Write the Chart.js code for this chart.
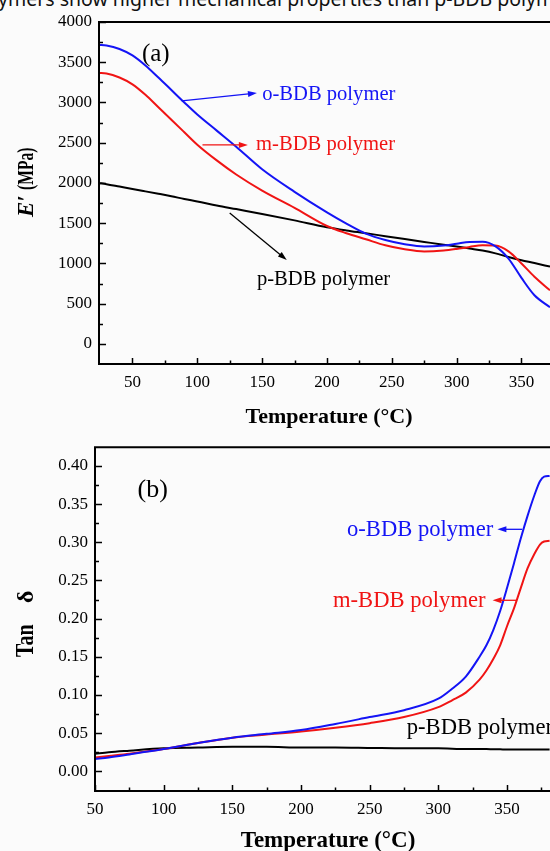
<!DOCTYPE html>
<html>
<head>
<meta charset="utf-8">
<script src="https://cdn.jsdelivr.net/npm/chart.js@4.4.0/dist/chart.umd.min.js"></script>
<style>
  html, body { margin: 0; padding: 0; background: #fbfbfb; }
  #pagina { position: relative; width: 550px; height: 851px; overflow: hidden; }
  #leyenda { position: absolute; left: -2px; top: -10px; white-space: nowrap;
             font-family: 'Noto Sans', sans-serif; font-size: 19.5px; line-height: 18px; color: #111; }
  canvas { position: absolute; left: 0; }
  #graficoA { top: 0; }
  #graficoB { top: 430px; }
</style>
</head>
<body>
<div id="pagina">
  <div id="leyenda">ymers show higher mechanical properties than p-BDB polym</div>
  <canvas id="graficoA" width="550" height="430"></canvas>
  <canvas id="graficoB" width="550" height="421"></canvas>
</div>
<script>
// (a) modulo de almacenamiento E' (MPa) frente a temperatura
const tempA = [24, 30, 40, 50, 60, 70, 80, 90, 100, 115, 130, 150, 175, 200, 215, 230, 245, 260, 275, 290, 300, 310, 320, 330, 340, 350, 360, 372];
const eOrto = [3715, 3708, 3665, 3585, 3460, 3310, 3155, 3000, 2850, 2650, 2450, 2170, 1890, 1635, 1495, 1370, 1290, 1238, 1210, 1222, 1245, 1267, 1268, 1212, 1060, 820, 605, 455];
const eMeta = [3366, 3360, 3310, 3225, 3095, 2940, 2785, 2630, 2475, 2280, 2105, 1905, 1690, 1465, 1375, 1300, 1225, 1175, 1148, 1160, 1180, 1205, 1225, 1222, 1150, 1000, 835, 665];
const ePara = [2000, 1985, 1955, 1925, 1895, 1865, 1835, 1800, 1770, 1720, 1675, 1615, 1535, 1450, 1410, 1375, 1338, 1302, 1267, 1232, 1210, 1185, 1160, 1125, 1080, 1040, 1005, 960];

// (b) tan delta frente a temperatura
const tempB = [50, 60, 75, 100, 125, 150, 175, 200, 225, 250, 275, 300, 310, 320, 330, 335, 340, 345, 350, 355, 360, 365, 370, 374, 377, 381];
const tanOrto = [0.016, 0.018, 0.022, 0.029, 0.037, 0.044, 0.049, 0.054, 0.062, 0.071, 0.080, 0.095, 0.108, 0.124, 0.150, 0.165, 0.185, 0.210, 0.240, 0.272, 0.305, 0.335, 0.362, 0.380, 0.386, 0.387];
const tanMeta = [0.018, 0.020, 0.023, 0.029, 0.037, 0.044, 0.048, 0.052, 0.057, 0.063, 0.071, 0.084, 0.093, 0.103, 0.120, 0.132, 0.147, 0.165, 0.190, 0.213, 0.240, 0.266, 0.285, 0.297, 0.301, 0.302];
const tanPara = [0.023, 0.025, 0.027, 0.030, 0.031, 0.032, 0.032, 0.031, 0.031, 0.0305, 0.030, 0.030, 0.0295, 0.029, 0.029, 0.029, 0.0288, 0.0287, 0.0285, 0.0285, 0.0285, 0.0285, 0.0285, 0.0285, 0.0285, 0.0285];

// marcas de los ejes
const ticksXA = [50, 100, 150, 200, 250, 300, 350];
const menoresXA = [75, 125, 175, 225, 275, 325];
const ticksYA = [0, 500, 1000, 1500, 2000, 2500, 3000, 3500, 4000];
const menoresYA = [250, 750, 1250, 1750, 2250, 2750, 3250, 3750];
const ticksXB = [50, 100, 150, 200, 250, 300, 350];
const menoresXB = [75, 125, 175, 225, 275, 325, 375];
const ticksYB = [0, 0.05, 0.10, 0.15, 0.20, 0.25, 0.30, 0.35, 0.40];
const menoresYB = [0.025, 0.075, 0.125, 0.175, 0.225, 0.275, 0.325, 0.375];

// colores
const AZUL = 'rgb(20,20,245)';
const ROJO = 'rgb(240,20,20)';
const NEGRO = '#000';
const SERIF = '"Liberation Serif", "Times New Roman", serif';

// anotaciones en unidades de datos
const notasA = [
  { tipo: 'texto', texto: '(a)', x: 68, y: 3600, color: NEGRO, font: '25px ' + SERIF, alinear: 'center', base: 'middle' },
  { tipo: 'texto', texto: 'o-BDB polymer', x: 150, y: 3031, color: AZUL, font: '20.6px ' + SERIF },
  { tipo: 'flecha', x1: 88, y1: 3019, x2: 146, y2: 3118, color: AZUL },
  { tipo: 'texto', texto: 'm-BDB polymer', x: 145.3, y: 2410, color: ROJO, font: '20.6px ' + SERIF },
  { tipo: 'flecha', x1: 104, y1: 2472, x2: 139, y2: 2472, color: ROJO },
  { tipo: 'texto', texto: 'p-BDB polymer', x: 146, y: 733, color: NEGRO, font: '20.6px ' + SERIF },
  { tipo: 'flecha', x1: 125, y1: 1627, x2: 169, y2: 1043, color: NEGRO }
];
const notasB = [
  { tipo: 'texto', texto: '(b)', x: 92, y: 0.368, color: NEGRO, font: '26px ' + SERIF, alinear: 'center', base: 'middle' },
  { tipo: 'texto', texto: 'o-BDB polymer', x: 233.5, y: 0.308, color: AZUL, font: '22.6px ' + SERIF },
  { tipo: 'flecha', x1: 361, y1: 0.317, x2: 343, y2: 0.317, color: AZUL },
  { tipo: 'texto', texto: 'm-BDB polymer', x: 223.3, y: 0.215, color: ROJO, font: '22.6px ' + SERIF },
  { tipo: 'flecha', x1: 357, y1: 0.224, x2: 339.5, y2: 0.224, color: ROJO },
  { tipo: 'texto', texto: 'p-BDB polymer', x: 277, y: 0.049, color: NEGRO, font: '22.6px ' + SERIF }
];

// Marco del grafico con marcas hacia dentro
const marcoPlugin = {
  id: 'marco',
  afterDraw(chart, args, op) {
    const { ctx, chartArea: a, scales: { x, y } } = chart;
    ctx.save();
    ctx.strokeStyle = NEGRO;
    ctx.lineWidth = 2;
    ctx.beginPath();
    ctx.moveTo(a.left, a.bottom); ctx.lineTo(a.left, a.top); ctx.lineTo(chart.width, a.top);
    ctx.moveTo(a.left - 1, a.bottom); ctx.lineTo(chart.width, a.bottom);
    ctx.stroke();
    ctx.lineWidth = 1.5;
    ctx.beginPath();
    op.xMayores.forEach(v => { const p = Math.round(x.getPixelForValue(v)) + 0.5; ctx.moveTo(p, a.bottom); ctx.lineTo(p, a.bottom - 6); });
    op.xMenores.forEach(v => { const p = Math.round(x.getPixelForValue(v)) + 0.5; ctx.moveTo(p, a.bottom); ctx.lineTo(p, a.bottom - 3.5); });
    op.yMayores.forEach(v => { const p = Math.round(y.getPixelForValue(v)) + 0.5; ctx.moveTo(a.left, p); ctx.lineTo(a.left + 7, p); });
    op.yMenores.forEach(v => { const p = Math.round(y.getPixelForValue(v)) + 0.5; ctx.moveTo(a.left, p); ctx.lineTo(a.left + 4, p); });
    ctx.stroke();
    ctx.restore();
  }
};

// Textos y flechas dentro del grafico
const notasPlugin = {
  id: 'notas',
  afterDraw(chart, args, op) {
    const { ctx, scales: { x, y } } = chart;
    ctx.save();
    op.items.forEach(n => {
      if (n.tipo === 'texto') {
        ctx.font = n.font;
        ctx.fillStyle = n.color;
        ctx.textAlign = n.alinear || 'left';
        ctx.textBaseline = n.base || 'alphabetic';
        ctx.fillText(n.texto, x.getPixelForValue(n.x), y.getPixelForValue(n.y));
      } else {
        const x1 = x.getPixelForValue(n.x1), y1 = y.getPixelForValue(n.y1);
        const x2 = x.getPixelForValue(n.x2), y2 = y.getPixelForValue(n.y2);
        const ang = Math.atan2(y2 - y1, x2 - x1);
        ctx.strokeStyle = n.color;
        ctx.fillStyle = n.color;
        ctx.lineWidth = 1.3;
        ctx.beginPath();
        ctx.moveTo(x1, y1);
        ctx.lineTo(x2 - 6 * Math.cos(ang), y2 - 6 * Math.sin(ang));
        ctx.stroke();
        ctx.beginPath();
        ctx.moveTo(x2, y2);
        ctx.lineTo(x2 - 9 * Math.cos(ang) + 3 * Math.sin(ang), y2 - 9 * Math.sin(ang) - 3 * Math.cos(ang));
        ctx.lineTo(x2 - 9 * Math.cos(ang) - 3 * Math.sin(ang), y2 - 9 * Math.sin(ang) + 3 * Math.cos(ang));
        ctx.closePath();
        ctx.fill();
      }
    });
    ctx.restore();
  }
};

// Titulos de los ejes (dibujados a mano para poder estrecharlos)
const titulosPlugin = {
  id: 'titulos',
  afterDraw(chart, args, op) {
    const { ctx } = chart;
    ctx.save();
    ctx.fillStyle = NEGRO;
    // eje X
    ctx.font = 'bold ' + op.xSize + 'px ' + SERIF;
    ctx.textAlign = 'center';
    ctx.textBaseline = 'alphabetic';
    ctx.fillText('Temperature (\u00B0C)', op.xCentro, op.xBase);
    // eje Y
    ctx.translate(op.yBase, op.yCentro);
    ctx.rotate(-Math.PI / 2);
    ctx.textAlign = 'left';
    op.yPartes.forEach(p => {
      ctx.save();
      ctx.font = p.font;
      ctx.translate(p.u, 0);
      ctx.scale(p.escala || 1, 1);
      ctx.fillText(p.texto, 0, 0);
      ctx.restore();
    });
    ctx.restore();
  }
};

function serie(xs, ys, color) {
  return {
    data: xs.map((t, i) => ({ x: t, y: ys[i] })),
    borderColor: color,
    borderWidth: 2,
    pointRadius: 0,
    fill: false,
    cubicInterpolationMode: 'monotone'
  };
}

function crearGrafico(id, cfg) {
  return new Chart(document.getElementById(id), {
    type: 'line',
    data: { datasets: cfg.series },
    options: {
      responsive: false,
      animation: false,
      events: [],
      layout: { padding: { top: cfg.arriba, left: 0, right: 0, bottom: 0 } },
      plugins: {
        legend: { display: false },
        tooltip: { enabled: false },
        marco: { xMayores: cfg.xMayores, xMenores: cfg.xMenores, yMayores: cfg.yMayores, yMenores: cfg.yMenores },
        notas: { items: cfg.notas },
        titulos: cfg.titulos
      },
      scales: {
        x: {
          type: 'linear', min: cfg.xMin, max: cfg.xMax,
          afterBuildTicks: s => { s.ticks = cfg.xMayores.map(v => ({ value: v })); },
          afterFit: s => { s.height = cfg.altoX; },
          grid: { display: false, drawTicks: false },
          border: { display: false },
          ticks: { font: { family: SERIF, size: 17 }, color: NEGRO, padding: 8, autoSkip: false, maxRotation: 0, callback: v => String(v) }
        },
        y: {
          type: 'linear', min: cfg.yMin, max: cfg.yMax,
          afterBuildTicks: s => { s.ticks = cfg.yMayores.map(v => ({ value: v })); },
          afterFit: s => { s.width = cfg.anchoY; },
          grid: { display: false, drawTicks: false },
          border: { display: false },
          ticks: { font: { family: SERIF, size: 17 }, color: NEGRO, padding: 7, autoSkip: false, callback: cfg.formatoY }
        }
      }
    },
    plugins: [marcoPlugin, notasPlugin, titulosPlugin]
  });
}

crearGrafico('graficoA', {
  series: [serie(tempA, eOrto, AZUL), serie(tempA, eMeta, ROJO), serie(tempA, ePara, NEGRO)],
  arriba: 22, altoX: 66, anchoY: 99,
  xMin: 24.2, xMax: 372, yMin: -250, yMax: 4000,
  xMayores: ticksXA, xMenores: menoresXA, yMayores: ticksYA, yMenores: menoresYA,
  formatoY: v => String(v),
  notas: notasA,
  titulos: {
    xSize: 22, xCentro: 329, xBase: 423,
    yBase: 33, yCentro: 183,
    yPartes: [
      { texto: 'E\u2032', font: 'bold italic 23px ' + SERIF, u: -34 },
      { texto: '(MPa)', font: 'bold 23px ' + SERIF, u: -7, escala: 0.68 }
    ]
  }
});

crearGrafico('graficoB', {
  series: [serie(tempB, tanOrto, AZUL), serie(tempB, tanMeta, ROJO), serie(tempB, tanPara, NEGRO)],
  arriba: 13, altoX: 60, anchoY: 95,
  xMin: 50, xMax: 381.3, yMin: -0.0259, yMax: 0.4246,
  xMayores: ticksXB, xMenores: menoresXB, yMayores: ticksYB, yMenores: menoresYB,
  formatoY: v => v.toFixed(2),
  notas: notasB,
  titulos: {
    xSize: 23, xCentro: 328, xBase: 417,
    yBase: 33, yCentro: 193,
    yPartes: [
      { texto: 'Tan', font: 'bold 25px ' + SERIF, u: -34, escala: 0.8 },
      { texto: '\u03B4', font: 'bold 24px ' + SERIF, u: 20 }
    ]
  }
});
</script>
</body>
</html>
